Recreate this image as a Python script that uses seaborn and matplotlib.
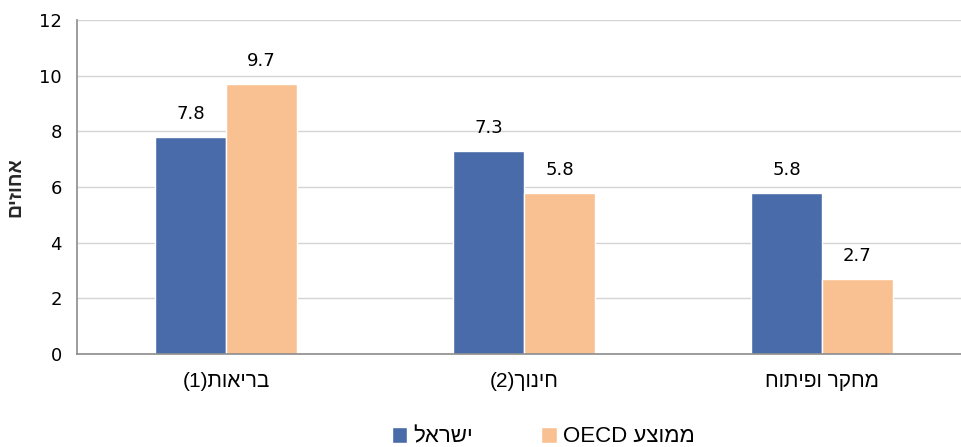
import re
import pandas as pd
import matplotlib
matplotlib.use("Agg")
import matplotlib.pyplot as plt
import seaborn as sns

# ── נתונים ──────────────────────────────────────────────────────────────────
categories = ["בריאות(1)", "חינוך(2)", "מחקר ופיתוח"]
series = ["ישראל", "ממוצע OECD"]
israel = [7.8, 7.3, 5.8]
oecd = [9.7, 5.8, 2.7]
y_label = "אחוזים"
y_ticks = [0, 2, 4, 6, 8, 10, 12]

COR_ISR = "#4A6BA9"
COR_OECD = "#F9C192"
CINZA = "#8C8C8C"
HEB_FONT = ["Liberation Sans", "DejaVu Sans"]


def rtl(s):
    # matplotlib draws left-to-right: put the Hebrew runs in visual order
    tokens = re.findall(r"[A-Za-z0-9.]+|[^A-Za-z0-9.]", s)
    swap = {"(": ")", ")": "("}
    return "".join(swap.get(t, t) for t in reversed(tokens))


df = pd.DataFrame({
    "cat": [rtl(c) for c in categories] * 2,
    "serie": [rtl(series[0])] * 3 + [rtl(series[1])] * 3,
    "val": israel + oecd,
})

sns.set_style("white")
plt.rcParams["font.family"] = ["DejaVu Sans"]
plt.rcParams["text.color"] = "black"
plt.rcParams["xtick.color"] = "black"
plt.rcParams["ytick.color"] = "black"

fig = plt.figure(figsize=(9.62, 4.47), dpi=100)
ax = fig.add_axes([77 / 962, 93 / 447, 894 / 962, 334 / 447])

sns.barplot(data=df, x="cat", y="val", hue="serie",
            hue_order=[rtl(s) for s in series],
            palette=[COR_ISR, COR_OECD], width=0.475, gap=0,
            saturation=1, ax=ax, legend=True)

for cont in ax.containers:
    ax.bar_label(cont, fmt="%.1f", padding=10, fontsize=13)

ax.set_ylim(0, 12)
ax.set_yticks(y_ticks)
ax.set_xlim(-0.5, 2.5)
ax.yaxis.grid(True, color="#D4D4D4", lw=1)
ax.set_axisbelow(True)
for s in ["top", "right"]:
    ax.spines[s].set_visible(False)
for s in ["left", "bottom"]:
    ax.spines[s].set_color(CINZA)
    ax.spines[s].set_linewidth(1.2)

ax.set_xticks([0.5, 1.5], minor=True)
ax.tick_params(axis="x", which="major", length=0, pad=13)
ax.tick_params(axis="x", which="minor", length=5, color=CINZA, direction="out")
ax.tick_params(axis="y", length=5, color=CINZA, direction="out", labelsize=13, pad=6)
for lbl in ax.get_xticklabels():
    lbl.set_fontfamily(HEB_FONT)
    lbl.set_fontsize(15)
ax.set_xlabel("")
ax.set_ylabel(rtl(y_label), fontsize=14, fontweight="bold", family=HEB_FONT)
ax.yaxis.set_label_coords(-53 / 894, 0.5)

handles, labels = ax.get_legend_handles_labels()
ax.get_legend().remove()
fig.legend(handles, labels, loc="center", bbox_to_anchor=(543 / 962, 1 - 437 / 447),
           ncol=2, frameon=False, prop={"family": HEB_FONT, "size": 16},
           handlelength=0.7, handleheight=0.7, columnspacing=3.1, handletextpad=0.25)

fig.savefig("out.png", dpi=100)
